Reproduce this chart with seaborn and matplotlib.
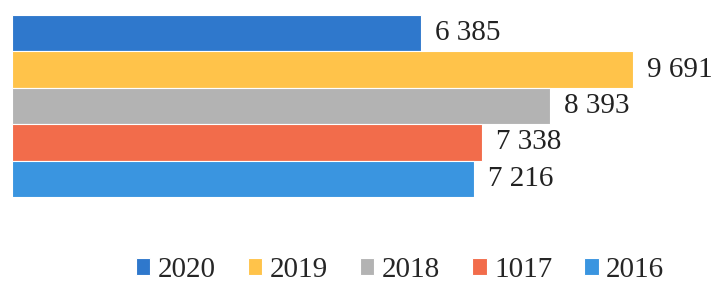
import matplotlib
matplotlib.use('Agg')
import matplotlib.pyplot as plt
import seaborn as sns
import pandas as pd

# 데이터
years = ['2020', '2019', '2018', '1017', '2016']
values = [6385, 9691, 8393, 7338, 7216]
colors = ['#2F78CC', '#FFC34A', '#B3B3B3', '#F26C4B', '#3A95E0']

sns.set_theme(style='white')
plt.rcParams['font.family'] = ['Liberation Serif', 'DejaVu Serif']

df = pd.DataFrame({'year': years, 'value': values})

fig = plt.figure(figsize=(7.22, 2.96), dpi=100)
ax = fig.add_axes([12 / 722, 1 - 197 / 296, 1 - 14 / 722, 182 / 296])

sns.barplot(data=df, x='value', y='year', hue='year', order=years, hue_order=years,
            palette=colors, orient='h', width=1.0, dodge=False, ax=ax, legend=True,
            saturation=1, linewidth=0.8)

for cont, v in zip(ax.containers, values):
    ax.bar_label(cont, labels=[f'{v:,}'.replace(',', ' ')], padding=10,
                 fontsize=21, color='#222222')

ax.set_xlim(0, 11050)
ax.set_xlabel('')
ax.set_ylabel('')
ax.set_xticks([])
ax.set_yticks([])
for s in ax.spines.values():
    s.set_visible(False)

sns.move_legend(ax, 'center', bbox_to_anchor=(400 / 722, 1 - 270 / 296),
                bbox_transform=fig.transFigure, ncol=5, frameon=False, title=None,
                fontsize=21, handlelength=0.5, handleheight=0.5, handletextpad=0.25,
                columnspacing=1.1)

fig.savefig('out.png', dpi=100)
